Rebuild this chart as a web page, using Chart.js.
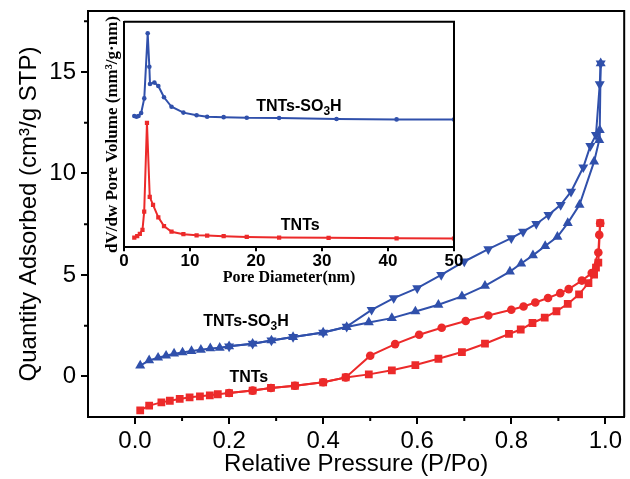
<!DOCTYPE html>
<html>
<head>
<meta charset="utf-8">
<script src="https://cdn.jsdelivr.net/npm/chart.js@4.4.1/dist/chart.umd.min.js"></script>
<style>
  body { margin: 0; background: #fff; }
  #wrap { position: relative; width: 630px; height: 479px; }
  #wrap canvas { position: absolute; left: 0; top: 0; }
</style>
</head>
<body>
<div id="wrap">
  <canvas id="main" width="630" height="479"></canvas>
  <canvas id="inset" width="630" height="479"></canvas>
</div>
<script>
// isotherms - TNTs-SO3H (blue)
const sulfoAdsX = [0.011, 0.030, 0.049, 0.066, 0.083, 0.101, 0.120, 0.140, 0.160, 0.180, 0.200, 0.250, 0.290, 0.336, 0.400, 0.450, 0.497, 0.546, 0.596, 0.645, 0.695, 0.744, 0.797, 0.821, 0.846, 0.872, 0.898, 0.920, 0.945, 0.976, 0.987, 0.988, 0.990];
const sulfoAdsY = [0.53, 0.79, 0.92, 1.02, 1.12, 1.18, 1.25, 1.31, 1.38, 1.41, 1.48, 1.61, 1.77, 1.94, 2.16, 2.43, 2.66, 2.87, 3.20, 3.53, 3.94, 4.46, 5.16, 5.56, 5.96, 6.42, 6.88, 7.55, 8.45, 10.58, 11.64, 12.13, 15.42];
const sulfoDesX = [0.990, 0.988, 0.980, 0.968, 0.953, 0.927, 0.905, 0.879, 0.853, 0.825, 0.800, 0.751, 0.700, 0.651, 0.600, 0.550, 0.503, 0.450, 0.400, 0.336, 0.290, 0.250, 0.200];
const sulfoDesY = [15.42, 14.40, 11.90, 11.35, 10.30, 9.10, 8.45, 7.95, 7.51, 7.13, 6.81, 6.27, 5.66, 5.00, 4.35, 3.86, 3.28, 2.45, 2.16, 1.94, 1.77, 1.61, 1.48];

// isotherms - TNTs (red)
const tntAdsX = [0.011, 0.030, 0.056, 0.074, 0.095, 0.116, 0.138, 0.159, 0.176, 0.200, 0.250, 0.289, 0.340, 0.400, 0.448, 0.497, 0.546, 0.596, 0.645, 0.695, 0.744, 0.795, 0.820, 0.845, 0.871, 0.896, 0.920, 0.944, 0.964, 0.976, 0.980, 0.985, 0.989];
const tntAdsY = [-1.67, -1.44, -1.28, -1.20, -1.11, -1.03, -0.98, -0.93, -0.88, -0.82, -0.70, -0.57, -0.46, -0.29, -0.05, 0.10, 0.30, 0.56, 0.87, 1.20, 1.61, 2.09, 2.31, 2.63, 2.90, 3.21, 3.57, 4.04, 4.60, 5.02, 5.36, 5.60, 7.55];
const tntDesX = [0.989, 0.987, 0.985, 0.971, 0.950, 0.922, 0.904, 0.878, 0.851, 0.826, 0.800, 0.751, 0.703, 0.652, 0.604, 0.553, 0.500, 0.448, 0.400, 0.340, 0.289, 0.250, 0.200];
const tntDesY = [7.55, 6.97, 6.10, 5.09, 4.72, 4.30, 4.10, 3.86, 3.64, 3.44, 3.28, 3.00, 2.73, 2.40, 2.05, 1.59, 1.02, -0.05, -0.29, -0.46, -0.57, -0.70, -0.82];

// pore size distribution (inset), arbitrary units 0..100
const sulfoPoreX = [1.56, 1.9, 2.2, 2.6, 3.07, 3.59, 3.84, 3.94, 4.6, 5.2, 6.06, 7.2, 9.0, 11.0, 12.6, 15.1, 18.6, 23.5, 32.2, 41.3, 50];
const sulfoPoreY = [58.2, 57.9, 58.2, 59.5, 66.0, 94.9, 80.0, 72.4, 73.0, 71.5, 66.5, 62.3, 59.7, 58.5, 57.9, 57.7, 57.4, 57.3, 56.9, 56.7, 56.6];
const tntPoreX = [1.56, 2.0, 2.4, 2.8, 3.06, 3.48, 3.9, 4.4, 5.2, 6.06, 7.2, 9.0, 11.0, 12.6, 15.1, 18.6, 23.5, 31.0, 41.3, 50];
const tntPoreY = [4.3, 5.0, 6.0, 7.7, 15.8, 55.2, 22.4, 18.8, 13.3, 9.4, 6.9, 5.8, 5.3, 5.2, 4.9, 4.6, 4.3, 4.2, 4.0, 3.9];

// tick positions
const pressureTicks = [0, 0.2, 0.4, 0.6, 0.8, 1.0];
const pressureMinor = [0.1, 0.3, 0.5, 0.7, 0.9];
const quantityTicks = [0, 5, 10, 15];
const quantityMinor = [2.5, 7.5, 12.5, 17.5];

const blue = '#3050ab';
const red = '#ec2a2a';
const sans = "'Liberation Sans', Arial, sans-serif";
const serif = "'Liberation Serif', 'Times New Roman', serif";

function pts(xs, ys) {
  return xs.map((x, i) => ({ x: x, y: ys[i] }));
}

// text with a subscript part, centred at cx, cy
function drawParts(ctx, parts, cx, cy, size) {
  ctx.save();
  ctx.fillStyle = '#000';
  ctx.textBaseline = 'middle';
  ctx.textAlign = 'left';
  let total = 0;
  parts.forEach(p => {
    ctx.font = 'bold ' + (p[1] ? size * 0.75 : size) + 'px ' + sans;
    total += ctx.measureText(p[0]).width;
  });
  let x = cx - total / 2;
  parts.forEach(p => {
    ctx.font = 'bold ' + (p[1] ? size * 0.75 : size) + 'px ' + sans;
    ctx.fillText(p[0], x, p[1] ? cy + size * 0.28 : cy);
    x += ctx.measureText(p[0]).width;
  });
  ctx.restore();
}

function boxPlugin(labels) {
  return {
    id: 'box',
    afterDatasetsDraw(chart) {
      const { ctx, chartArea: a, scales } = chart;
      ctx.save();
      ctx.strokeStyle = '#000';
      ctx.lineWidth = 2;
      ctx.beginPath();
      ctx.moveTo(a.left, a.top);
      ctx.lineTo(a.right, a.top);
      ctx.lineTo(a.right, a.bottom);
      ctx.stroke();
      ctx.restore();
      labels.forEach(l => {
        drawParts(ctx, l.parts, scales.x.getPixelForValue(l.x), scales.y.getPixelForValue(l.y), l.size);
      });
    }
  };
}

const minorTicks = {
  id: 'minorTicks',
  afterDraw(chart) {
    const { ctx, chartArea: a, scales } = chart;
    ctx.save();
    ctx.strokeStyle = '#000';
    ctx.lineWidth = 2;
    ctx.beginPath();
    pressureMinor.forEach(v => {
      const px = scales.x.getPixelForValue(v);
      ctx.moveTo(px, a.bottom);
      ctx.lineTo(px, a.bottom + 4);
    });
    quantityMinor.forEach(v => {
      const py = scales.y.getPixelForValue(v);
      ctx.moveTo(a.left, py);
      ctx.lineTo(a.left - 4, py);
    });
    ctx.stroke();
    ctx.restore();
  }
};

function series(xs, ys, color, style, radius, rot) {
  return {
    data: pts(xs, ys),
    showLine: true,
    borderColor: color,
    backgroundColor: color,
    borderWidth: 2,
    pointStyle: style,
    pointRadius: radius,
    pointBorderWidth: 0,
    pointRotation: rot || 0,
    tension: 0
  };
}

// fixed axis sizes, no extra padding from edge labels
function fitX(h) {
  return s => { s.height = h; s.paddingLeft = 0; s.paddingRight = 0; };
}
function fitY(w) {
  return s => { s.width = w; s.paddingTop = 0; s.paddingBottom = 0; };
}

new Chart(document.getElementById('main'), {
  type: 'scatter',
  data: {
    datasets: [
      series(tntAdsX, tntAdsY, red, 'rect', 5.5),
      series(tntDesX, tntDesY, red, 'circle', 4.3),
      series(sulfoAdsX, sulfoAdsY, blue, 'triangle', 5.8),
      series(sulfoDesX, sulfoDesY, blue, 'triangle', 5.8, 180)
    ]
  },
  options: {
    responsive: false,
    animation: false,
    layout: { padding: { top: 11, right: 3, left: 0, bottom: 0 } },
    plugins: { legend: { display: false }, tooltip: { enabled: false } },
    scales: {
      x: {
        type: 'linear',
        min: -0.1,
        max: 1.04,
        afterFit: fitX(62),
        afterBuildTicks: s => { s.ticks = pressureTicks.map(v => ({ value: v })); },
        ticks: {
          callback: v => v.toFixed(1),
          color: '#000',
          font: { family: sans, size: 24 },
          padding: 3,
          maxRotation: 0,
          autoSkip: false
        },
        grid: { drawOnChartArea: false, tickLength: 7, color: '#000', lineWidth: 2 },
        border: { color: '#000', width: 2 },
        title: {
          display: true,
          text: 'Relative Pressure (P/Po)',
          color: '#000',
          font: { family: sans, size: 24 },
          padding: { top: 0, bottom: 0 }
        }
      },
      y: {
        type: 'linear',
        min: -2,
        max: 18,
        afterFit: fitY(88),
        afterBuildTicks: s => { s.ticks = quantityTicks.map(v => ({ value: v })); },
        ticks: {
          color: '#000',
          font: { family: sans, size: 24 },
          padding: 5
        },
        grid: { drawOnChartArea: false, tickLength: 7, color: '#000', lineWidth: 2 },
        border: { color: '#000', width: 2 },
        title: {
          display: true,
          text: 'Quantity Adsorbed (cm³/g STP)',
          color: '#000',
          font: { family: sans, size: 24 },
          padding: { top: 15, bottom: 0 }
        }
      }
    }
  },
  plugins: [minorTicks, boxPlugin([
    { parts: [['TNTs-SO', false], ['3', true], ['H', false]], x: 0.236, y: 2.69, size: 16 },
    { parts: [['TNTs', false]], x: 0.242, y: -0.04, size: 16 }
  ])]
});

new Chart(document.getElementById('inset'), {
  type: 'scatter',
  data: {
    datasets: [
      series(sulfoPoreX, sulfoPoreY, blue, 'circle', 2.3),
      series(tntPoreX, tntPoreY, red, 'rect', 3)
    ]
  },
  options: {
    responsive: false,
    animation: false,
    layout: { padding: { left: 102, top: 21.7, right: 176, bottom: 191.7 } },
    plugins: { legend: { display: false }, tooltip: { enabled: false } },
    scales: {
      x: {
        type: 'linear',
        min: 0,
        max: 50,
        afterFit: fitX(40),
        ticks: {
          stepSize: 10,
          color: '#000',
          font: { family: sans, size: 17, weight: 'bold' },
          padding: 0,
          maxRotation: 0
        },
        grid: { drawOnChartArea: false, tickLength: 4, color: '#000', lineWidth: 2 },
        border: { color: '#000', width: 2 },
        title: {
          display: true,
          text: 'Pore Diameter(nm)',
          color: '#000',
          font: { family: serif, size: 16, weight: 'bold' },
          padding: { top: 0, bottom: 0 }
        }
      },
      y: {
        type: 'linear',
        min: 0,
        max: 100,
        afterFit: fitY(22),
        ticks: { display: false },
        grid: { display: false },
        border: { color: '#000', width: 2 },
        title: {
          display: true,
          text: 'dV/dw Pore Volume (mm³/g·nm)',
          color: '#000',
          font: { family: serif, size: 17, weight: 'bold' },
          padding: { top: 0, bottom: 0 }
        }
      }
    }
  },
  plugins: [boxPlugin([
    { parts: [['TNTs-SO', false], ['3', true], ['H', false]], x: 26.5, y: 62.3, size: 16 },
    { parts: [['TNTs', false]], x: 26.7, y: 9.4, size: 16 }
  ])]
});
</script>
</body>
</html>
